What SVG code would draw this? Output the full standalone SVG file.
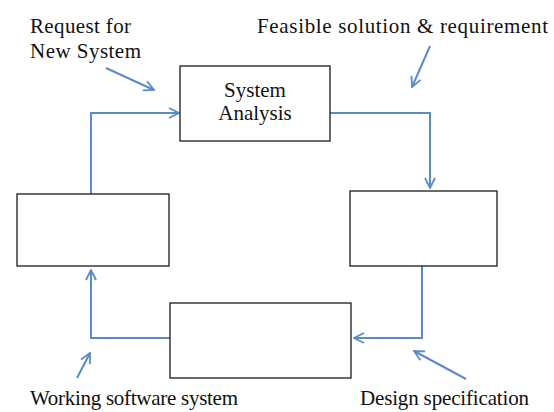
<svg xmlns="http://www.w3.org/2000/svg" width="554" height="412" viewBox="0 0 554 412">
<defs>
<style>
.box{fill:#fff;stroke:#1a1a1a;stroke-width:1.3}
.ln{fill:none;stroke:#5b8acb;stroke-width:2}
.t{font-family:"Liberation Serif","Times New Roman",serif;font-size:21px;fill:#111}
</style>
<marker id="ah" viewBox="0 0 12 12" refX="11" refY="6" markerWidth="12" markerHeight="12" markerUnits="userSpaceOnUse" orient="auto">
<path d="M1,1 L11,6 L1,11" fill="none" stroke="#5b8acb" stroke-width="1.8"/>
</marker>
</defs>
<rect width="554" height="412" fill="#fff"/>
<g id="connectors">
<path class="ln" d="M91,194 V113 H179" marker-end="url(#ah)"/>
<path class="ln" d="M330,113 H430 V188" marker-end="url(#ah)"/>
<path class="ln" d="M422,266 V338 H354" marker-end="url(#ah)"/>
<path class="ln" d="M170,338 H91 V270" marker-end="url(#ah)"/>
<path class="ln" d="M106,68 L154,90" marker-end="url(#ah)"/>
<path class="ln" d="M430,46 L412,87" marker-end="url(#ah)"/>
<path class="ln" d="M77,378 L90,353" marker-end="url(#ah)"/>
<path class="ln" d="M466,379 L414,351" marker-end="url(#ah)"/>
</g>
<g id="analysis">
<rect class="box" x="180" y="66" width="150" height="75"/>
<text class="t" x="255" y="97" text-anchor="middle">System</text>
<text class="t" x="255" y="120" text-anchor="middle">Analysis</text>
</g>
<g id="left"><rect class="box" x="17" y="194" width="152" height="72"/></g>
<g id="right"><rect class="box" x="350" y="191" width="147" height="75"/></g>
<g id="bottom"><rect class="box" x="170" y="303" width="181" height="75"/></g>
<g id="labels">
<text class="t" x="30" y="33" textLength="101">Request for</text>
<text class="t" x="30" y="58" textLength="111">New System</text>
<text class="t" x="257" y="33" textLength="291">Feasible solution &amp; requirement</text>
<text class="t" x="30" y="405" textLength="208">Working software system</text>
<text class="t" x="360" y="405" textLength="169">Design specification</text>
</g>
</svg>
